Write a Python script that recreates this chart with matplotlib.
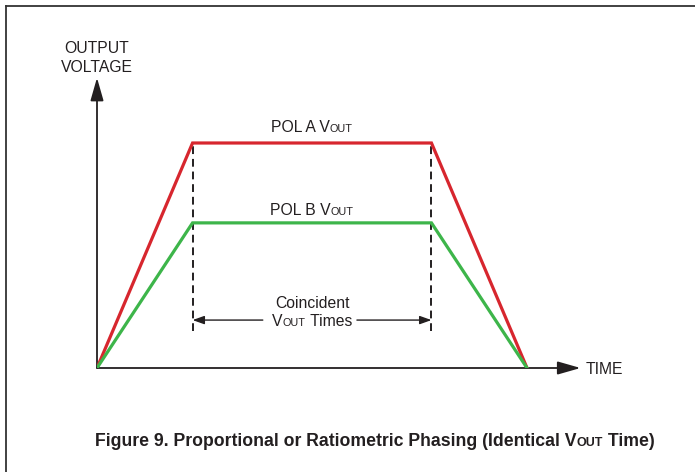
import matplotlib
matplotlib.use("Agg")
import matplotlib.pyplot as plt
import matplotlib.transforms as mtransforms
from matplotlib.lines import Line2D

# phasing profile (time in arbitrary units, voltage normalised to POL A)
t_pts = [0, 2, 7, 9]
pol_a = [0, 1.0, 1.0, 0]
pol_b = [0, 0.645, 0.645, 0]
coincident = [2, 7]          # start / end of the flat part

RED = "#d7262e"
GREEN = "#3db54a"
INK = "#231f20"

plt.rcParams['font.family'] = ['Liberation Sans', 'DejaVu Sans']

fig = plt.figure(figsize=(6.95, 4.72), dpi=100)
W, H = 695, 472
ax = fig.add_axes([97 / W, 104 / H, 10.4 * 47.78 / W, 1.4 * 225 / H])
ax.set_xlim(0, 10.4)
ax.set_ylim(0, 1.4)
ax.axis("off")

# frame (top + left only)
fig.add_artist(Line2D([6 / W, 1], [1 - 5.5 / H, 1 - 5.5 / H], color="#333333", lw=1.3))
fig.add_artist(Line2D([6 / W, 6 / W], [0, 1 - 5.5 / H], color="#333333", lw=1.3))

# axes arrows
ax.annotate("", xy=(10.12, 0), xytext=(0, 0),
            arrowprops=dict(arrowstyle="-|>,head_length=1.4,head_width=0.4", mutation_scale=10,
                            color=INK, lw=1.3, shrinkA=0, shrinkB=0), annotation_clip=False)
ax.annotate("", xy=(0, 1.29), xytext=(0, 0),
            arrowprops=dict(arrowstyle="-|>,head_length=1.4,head_width=0.4", mutation_scale=10,
                            color=INK, lw=1.3, shrinkA=0, shrinkB=0), annotation_clip=False)

# dashed markers for the coincident window
ax.vlines(coincident, 0.165, pol_a[1], colors=INK, linestyles=(0, (4, 2.5)), lw=1.4, zorder=1)

ax.plot(t_pts, pol_a, color=RED, lw=2.3, solid_joinstyle="miter", zorder=3)
ax.plot(t_pts, pol_b, color=GREEN, lw=2.3, solid_joinstyle="miter", zorder=3)

# coincident arrows
arr = dict(arrowstyle="-|>,head_length=0.7,head_width=0.25", mutation_scale=10,
           color=INK, lw=1.0, shrinkA=0, shrinkB=0)
ax.annotate("", xy=(coincident[0], 0.213), xytext=(3.47, 0.213), arrowprops=arr)
ax.annotate("", xy=(coincident[1], 0.213), xytext=(5.44, 0.213), arrowprops=arr)

renderer = fig.canvas.get_renderer()


def rich(x, y, pieces, weight="normal", center=True):
    texts, widths = [], []
    for s, size in pieces:
        t = ax.text(x, y, s, fontsize=size, ha="left", va="baseline", color=INK, fontweight=weight)
        texts.append(t)
        widths.append(t.get_window_extent(renderer).width)
    off = -sum(widths) / 2 if center else 0
    for t, w in zip(texts, widths):
        t.set_transform(mtransforms.offset_copy(ax.transData, fig=fig, x=off * 72 / fig.dpi,
                                                y=0, units="points"))
        off += w


rich(0, 1.4, [("OUTPUT", 11.3)])
rich(0, 1.316, [("VOLTAGE", 11.3)])
rich(4.5, 1.049, [("POL A V", 11.3), ("OUT", 7.8)])
rich(4.5, 0.68, [("POL B V", 11.3), ("OUT", 7.8)])
rich(4.5, 0.267, [("Coincident", 11.3)])
rich(4.5, 0.187, [("V", 11.3), ("OUT", 7.8), (" Times", 11.3)])
ax.text(10.23, -0.027, "TIME", fontsize=11.3, ha="left", va="baseline", color=INK)

# caption
rich(-0.04, -0.347, [("Figure 9. Proportional or Ratiometric Phasing (Identical V", 12.7),
                     ("OUT", 9), (" Time)", 12.7)], weight="bold", center=False)

fig.savefig("out.png", dpi=100)
